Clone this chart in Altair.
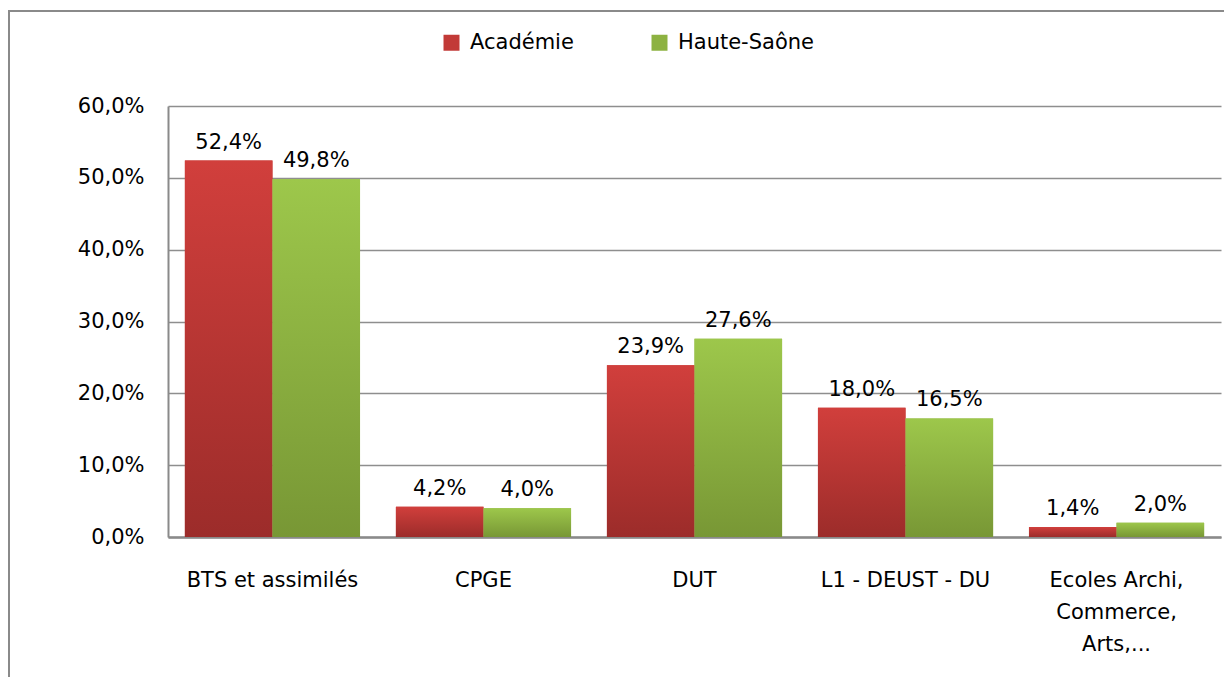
import altair as alt
import pandas as pd

categories = ["BTS et assimilés", "CPGE", "DUT", "L1 - DEUST  - DU",
              "Ecoles Archi,\nCommerce,\nArts,..."]
series = ["Académie", "Haute-Saône"]
academie = [52.4, 4.2, 23.9, 18.0, 1.4]
haute_saone = [49.8, 4.0, 27.6, 16.5, 2.0]
y_ticks = [0, 10, 20, 30, 40, 50, 60]

solid_colors = ["#C23A37", "#8DB241"]
red_grad = {"gradient": "linear", "x1": 0, "x2": 0, "y1": 0, "y2": 1,
            "stops": [{"offset": 0, "color": "#D13F3C"}, {"offset": 1, "color": "#9C2C2A"}]}
green_grad = {"gradient": "linear", "x1": 0, "x2": 0, "y1": 0, "y2": 1,
              "stops": [{"offset": 0, "color": "#9DC74B"}, {"offset": 1, "color": "#789735"}]}

rows = []
for c, a, h in zip(categories, academie, haute_saone):
    rows.append({"cat": c, "serie": series[0], "v": a})
    rows.append({"cat": c, "serie": series[1], "v": h})
df = pd.DataFrame(rows)

FONT = "DejaVu Sans"
FS = 21
W, H = 1053, 431

x_enc = alt.X("cat:N", sort=categories, title=None,
              scale=alt.Scale(paddingInner=0.17, paddingOuter=0.08),
              axis=alt.Axis(labelExpr="split(datum.label, '\\n')", labelAngle=0,
                            labelPadding=32, labelLineHeight=32, tickSize=0,
                            domainColor="#8A8A8A", domainWidth=2.5,
                            labelBaseline="top", grid=False))
xo_enc = alt.XOffset("serie:N", sort=series, scale=alt.Scale(paddingInner=0, paddingOuter=0))
y_enc = alt.Y("v:Q", title=None, scale=alt.Scale(domain=[0, 60]),
              axis=alt.Axis(values=y_ticks, tickSize=0, labelPadding=24,
                            labelExpr="replace(format(datum.value,'.1f'),'.',',')+'%'",
                            domainColor="#8A8A8A", domainWidth=2,
                            gridColor="#8E8E8E", gridWidth=1.5))

base = alt.Chart(df)

legend_bars = base.mark_bar().encode(
    x=x_enc, xOffset=xo_enc, y=y_enc,
    color=alt.Color("serie:N", sort=series,
                    scale=alt.Scale(domain=series, range=solid_colors),
                    legend=alt.Legend(orient="none", legendX=273, legendY=-74,
                                      direction="horizontal", title=None,
                                      symbolType="square", symbolSize=256,
                                      labelFontSize=FS, labelFont=FONT, labelColor="#000000",
                                      labelOffset=8, columnPadding=75, padding=0,
                                      symbolStrokeWidth=0)),
)

red_bars = base.transform_filter(alt.datum.serie == series[0]).mark_bar(fill=red_grad).encode(
    x=x_enc, xOffset=xo_enc, y=y_enc)
green_bars = base.transform_filter(alt.datum.serie == series[1]).mark_bar(fill=green_grad).encode(
    x=x_enc, xOffset=xo_enc, y=y_enc)

labels = base.transform_calculate(
    lab="replace(format(datum.v,'.1f'),'.',',')+'%'"
).mark_text(font=FONT, fontSize=FS, color="#000000", baseline="bottom", dy=-8).encode(
    x=x_enc, xOffset=xo_enc, y=y_enc, text="lab:N")

border = alt.Chart(pd.DataFrame({"k": [0]})).mark_rect(
    fill=None, stroke="#8A8A8A", strokeWidth=2
).encode(x=alt.value(-159), x2=alt.value(W + 60), y=alt.value(-95), y2=alt.value(H + 200))

chart = alt.layer(legend_bars, red_bars, green_bars, labels, border).properties(
    width=W, height=H,
    padding={"left": 160, "top": 98, "right": 3, "bottom": 140},
    autosize=alt.AutoSizeParams(type="none"),
    background="white",
).configure_view(stroke=None).configure_axis(
    labelFont=FONT, labelFontSize=FS, labelColor="#000000"
)

chart.save("out.html", embed_options={"renderer": "svg", "actions": False})
